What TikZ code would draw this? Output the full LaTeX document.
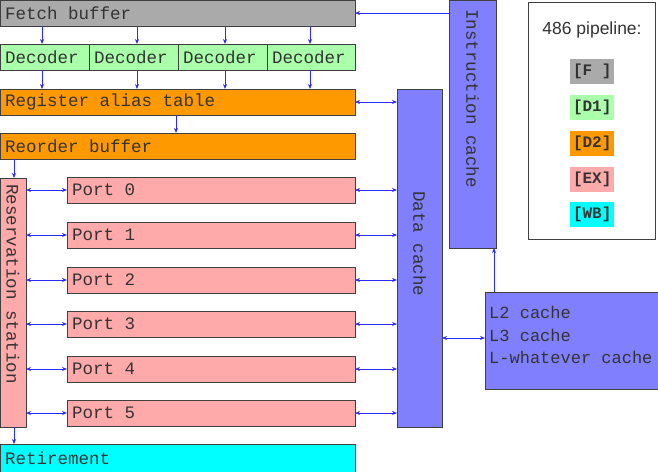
\documentclass[tikz,border=0pt]{standalone}
\usepackage{fontspec}
\setmainfont{Liberation Sans}
\setmonofont{Liberation Mono}
\usetikzlibrary{arrows.meta}
\definecolor{cgray}{HTML}{AAAAAA}
\definecolor{cgreen}{HTML}{AAFFAA}
\definecolor{corange}{HTML}{FF9900}
\definecolor{cpink}{HTML}{FFAAAA}
\definecolor{ccyan}{HTML}{00FFFF}
\definecolor{cblue}{HTML}{8080FF}
\definecolor{carrow}{HTML}{2A2AFF}
\definecolor{cborder}{HTML}{404040}
\definecolor{ctext}{HTML}{333333}
\tikzset{
  box/.style={draw=cborder, line width=0.9pt, anchor=north west, inner sep=0pt, outer sep=0pt},
  lbl/.style={anchor=west, inner sep=0pt, font=\ttfamily\fontsize{17.5}{20}\selectfont, text=ctext},
  slbl/.style={anchor=west, inner sep=0pt, font=\ttfamily\fontsize{17}{20}\selectfont, text=ctext},
  vlbl/.style={anchor=west, rotate=-90, inner sep=0pt, font=\ttfamily\fontsize{17.5}{20}\selectfont, text=ctext},
  arr/.style={draw=carrow, line width=0.8pt, -{Stealth[length=5pt,width=4pt]}},
  darr/.style={draw=carrow, line width=0.8pt, {Stealth[length=5pt,width=4pt]}-{Stealth[length=5pt,width=4pt]}},
  leg/.style={anchor=north west, inner sep=0pt, minimum width=44pt, minimum height=25pt, font=\ttfamily\bfseries\fontsize{16}{18}\selectfont, text=ctext},
}
\begin{document}
\begin{tikzpicture}[x=1pt,y=-1pt]
\useasboundingbox (0,0) rectangle (658,471);
% boxes
\node[box, fill=cgray, minimum width=355pt, minimum height=26pt] (fetch) at (0,0) {};
\node[lbl] (fetchl) at (5,13) {Fetch buffer};
\node[box, fill=cgreen, minimum width=89pt, minimum height=26pt] (dec1) at (0,44) {};
\node[box, fill=cgreen, minimum width=89pt, minimum height=26pt] (dec2) at (89,44) {};
\node[box, fill=cgreen, minimum width=89pt, minimum height=26pt] (dec3) at (178,44) {};
\node[box, fill=cgreen, minimum width=88pt, minimum height=26pt] (dec4) at (267,44) {};
\node[lbl] (dec1l) at (5,57) {Decoder};
\node[lbl] (dec2l) at (94,57) {Decoder};
\node[lbl] (dec3l) at (183,57) {Decoder};
\node[lbl] (dec4l) at (272,57) {Decoder};
\node[box, fill=corange, minimum width=355pt, minimum height=26pt] (rat) at (0,89) {};
\node[lbl] (ratl) at (5,102) {Register alias table};
\node[box, fill=corange, minimum width=355pt, minimum height=26pt] (rob) at (0,133) {};
\node[lbl] (robl) at (5,146) {Reorder buffer};
\node[box, fill=cpink, minimum width=26pt, minimum height=249pt] (rs) at (0,178) {};
\node[vlbl] (rsl) at (13,184) {Reservation station};
\foreach \i/\y in {0/177,1/222,2/267,3/311,4/356,5/400}{
  \node[box, fill=cpink, minimum width=288pt, minimum height=26pt] (port\i) at (67,\y) {};
  \node[lbl] (port\i l) at (72,\y+13) {Port \i};
}
\node[box, fill=ccyan, minimum width=355pt, minimum height=28pt] (ret) at (0,444) {};
\node[lbl] (retl) at (5,458) {Retirement};
\node[box, fill=cblue, minimum width=45pt, minimum height=338pt] (dc) at (397,89) {};
\node[vlbl] (dcl) at (419.5,191) {Data cache};
\node[box, fill=cblue, minimum width=47pt, minimum height=248pt] (ic) at (449,0) {};
\node[vlbl] (icl) at (472.5,9) {Instruction cache};
\node[box, fill=cblue, minimum width=173pt, minimum height=97pt] (l2) at (485,292) {};
\node[slbl] (l2a) at (489,312) {L2 cache};
\node[slbl] (l2b) at (489,335) {L3 cache};
\node[slbl] (l2c) at (489,357) {L-whatever cache};
% legend
\node[box, fill=white, minimum width=127pt, minimum height=237pt] (legend) at (528,2) {};
\node[anchor=center, inner sep=0pt, font=\fontsize{17.5}{20}\selectfont, text=ctext] (legt) at (592,30) {486 pipeline:};
\node[leg, fill=cgray] (legF) at (570,59) {[F ]};
\node[leg, fill=cgreen] (legD1) at (570,95) {[D1]};
\node[leg, fill=corange] (legD2) at (570,131) {[D2]};
\node[leg, fill=cpink] (legEX) at (570,167) {[EX]};
\node[leg, fill=ccyan] (legWB) at (570,202) {[WB]};
% arrows
\draw[arr] (ic.west |- 0,13) -- (fetch.east |- 0,13);
\foreach \x/\d in {42/dec1,137/dec2,225/dec3,310/dec4}{
  \draw[arr] (fetch.south -| \x,0) -- (\d.north -| \x,0);
  \draw[arr] (\d.south -| \x,0) -- (rat.north -| \x,0);
}
\draw[arr] (rat.south -| 176,0) -- (rob.north -| 176,0);
\draw[arr] (rob.south -| 14,0) -- (rs.north -| 14,0);
\draw[arr] (rs.south -| 14,0) -- (ret.north -| 14,0);
\draw[darr] (rat.east) -- (dc.west |- rat.east);
\foreach \i in {0,...,5}{
  \draw[darr] (rs.east |- port\i.west) -- (port\i.west);
  \draw[darr] (port\i.east) -- (dc.west |- port\i.east);
}
\draw[darr] (dc.east |- 0,338) -- (l2.west |- 0,338);
\draw[arr] (l2.north -| 494,0) -- (ic.south -| 494,0);
\end{tikzpicture}
\end{document}
